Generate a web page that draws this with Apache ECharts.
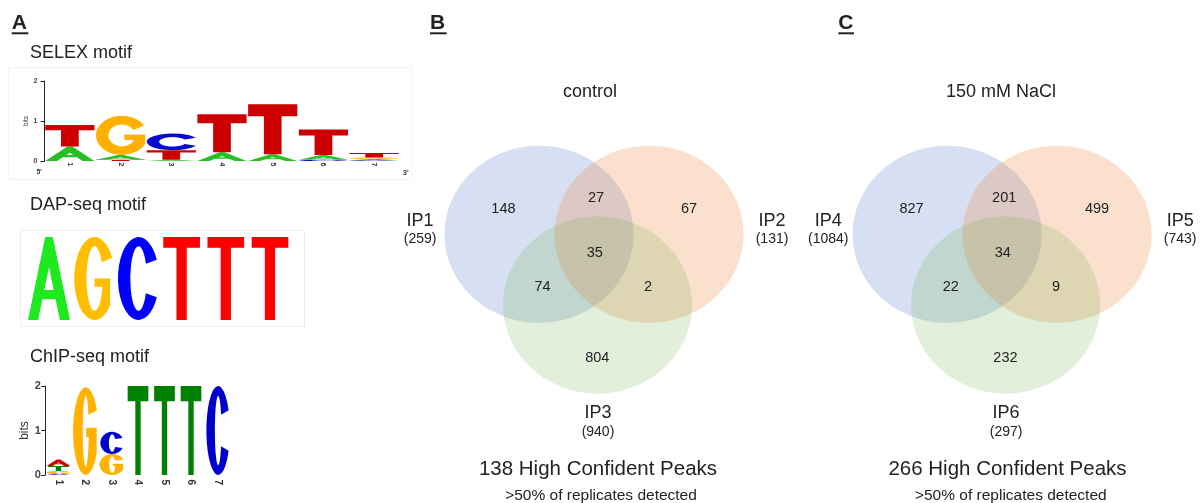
<!DOCTYPE html>
<html><head><meta charset="utf-8">
<script src="https://cdn.jsdelivr.net/npm/echarts@6.0.0/dist/echarts.min.js"></script>
<style>html,body{margin:0;padding:0;background:#fff}#c{width:1203px;height:503px}</style>
</head><body><div id="c"></div>
<script>
// ================= DATA =================
// Panel A – SELEX motif (bits per letter, positions 1..7)
const selexPositions = ['1','2','3','4','5','6','7'];
const selexA = [0.36, 0.12, 0.03, 0.22, 0.17, 0.12, 0.03];
const selexC = [0.00, 0.00, 0.42, 0.00, 0.00, 0.03, 0.02];
const selexG = [0.00, 0.98, 0.00, 0.00, 0.00, 0.00, 0.04];
const selexT = [0.54, 0.03, 0.24, 0.95, 1.25, 0.64, 0.11];
// Panel A – DAP-seq consensus
const dapPositions = ['1','2','3','4','5','6'];
const dapLetters = ['A','G','C','T','T','T'];
const dapHeights = [1, 1, 1, 1, 1, 1];
// Panel A – ChIP-seq motif (bits)
const chipPositions = ['1','2','3','4','5','6','7'];
const chipA = [0.15, 0.00, 0.00, 0.00, 0.00, 0.00, 0.00];
const chipC = [0.02, 0.00, 0.50, 0.00, 0.00, 0.00, 2.00];
const chipG = [0.07, 1.97, 0.47, 0.00, 0.00, 0.00, 0.00];
const chipT = [0.11, 0.00, 0.00, 2.00, 2.00, 2.00, 0.00];
const bitsTicks = [0, 1, 2];
// Panel B – control
const titleB = 'control';
const setNamesB = ['IP1', 'IP2', 'IP3'];
const setTotalsB = [259, 131, 940];
const regionCountsB = [148, 67, 804, 27, 74, 2, 35]; // 1,2,3,12,13,23,123
const highConfB = 138;
// Panel C – 150 mM NaCl
const titleC = '150 mM NaCl';
const setNamesC = ['IP4', 'IP5', 'IP6'];
const setTotalsC = [1084, 743, 297];
const regionCountsC = [827, 499, 232, 201, 22, 9, 34];
const highConfC = 266;
const subNote = '>50% of replicates detected';

// ================= LAYOUT / STYLE =================
const FONT = '"Liberation Sans", Arial, Helvetica, sans-serif';
const LETTERS = ['A','C','G','T'];
const VENN_CIRCLES = [[-0.582, 0], [0.582, 0], [0.038, -0.8]];
const VENN_FILLS = ['rgba(68,114,196,0.22)', 'rgba(237,125,49,0.24)', 'rgba(112,173,71,0.2)'];
const VENN_REGION_POS = [[-0.958,0.285],[1.005,0.285],[0.035,-1.395],[0.022,0.412],[-0.544,-0.6],[0.572,-0.6],[0.008,-0.216]];
const VENN_SET_POS = [[-1.84,0.153],[1.884,0.153],[0.042,-2.024]];
const SET_COUNT_DY = -0.214;

const f2 = v => (+v).toFixed(2);
function glyphT(p){ const b=f2(p.bar*100), s=p.stem*50; return `M0,0H100V${b}H${f2(50+s)}V100H${f2(50-s)}V${b}H0Z`; }
function glyphA(p){
  const tw=p.top, s=p.leg, c1=p.cb1, c2=p.cb2;
  const xl=y=>50-tw/2+s-(50-tw/2)*y/100, xr=y=>50+tw/2-s+(50-tw/2)*y/100;
  const yap=(2*s-tw)*100/(100-tw);
  return `M0,100L${f2(50-tw/2)},0L${f2(50+tw/2)},0L100,100L${f2(100-s)},100L${f2(xr(c2))},${c2}L${f2(xl(c2))},${c2}L${s},100Z` +
         `M${f2(xl(c1))},${c1}L${f2(xr(c1))},${c1}L50,${f2(yap)}Z`;
}
function glyphC(p){
  const t=p.theta*Math.PI/180, irx=50-p.sx, iry=50-p.sy;
  const ox=50+50*Math.cos(t), oy=50*Math.sin(t), ix=50+irx*Math.cos(t), iy=iry*Math.sin(t);
  return `M${f2(ox)},${f2(50-oy)}A50,50 0 1 0 ${f2(ox)},${f2(50+oy)}L${f2(ix)},${f2(50+iy)}A${irx},${iry} 0 1 1 ${f2(ix)},${f2(50-iy)}Z`;
}
function glyphG(p){
  const t=p.theta*Math.PI/180, f=p.phi*Math.PI/180, irx=50-p.sx, iry=50-p.sy;
  const ox=50+50*Math.cos(t), oy=50*Math.sin(t);
  const ex=50+50*Math.cos(f), ey=50+50*Math.sin(f);
  const yb=p.barBottom, ang=Math.asin(Math.min(1,(yb-50)/iry)), ix=50+irx*Math.cos(ang);
  const tx=50+irx*Math.cos(t), ty=50-iry*Math.sin(t);
  return `M${f2(ox)},${f2(50-oy)}A50,50 0 1 0 ${f2(ex)},${f2(ey)}L${f2(ex)},${p.barTop}L${p.barLeft},${p.barTop}L${p.barLeft},${yb}L${f2(ix)},${yb}A${irx},${iry} 0 1 1 ${f2(tx)},${f2(ty)}Z`;
}
function makeStyle(o){
  return {
    paths:{A:glyphA(o.A), C:glyphC(o.C), G:glyphG(o.G), T:glyphT(o.T)},
    colors:o.colors, widths:o.widths
  };
}
const STYLE_SELEX = makeStyle({
  T:{bar:0.24, stem:0.36}, A:{top:10, leg:24, cb1:58, cb2:74},
  C:{theta:28, sx:24, sy:22}, G:{theta:30, phi:25, barTop:48, barBottom:62, barLeft:55, sx:24, sy:22},
  colors:{A:'#24C024', C:'#0A0ACC', G:'#FFB000', T:'#CC0000'},
  widths:{A:0.97, C:0.97, G:0.97, T:0.97}
});
const STYLE_DAP = makeStyle({
  T:{bar:0.13, stem:0.28}, A:{top:18, leg:24, cb1:64, cb2:75},
  C:{theta:27, sx:30, sy:11}, G:{theta:30, phi:40, barTop:50, barBottom:60, barLeft:50, sx:30, sy:11},
  colors:{A:'#1EE81E', C:'#0000FF', G:'#FFBF00', T:'#FF0000'},
  widths:{A:0.95, C:0.88, G:0.86, T:0.83}
});
const STYLE_CHIP = makeStyle({
  T:{bar:0.17, stem:0.26}, A:{top:14, leg:26, cb1:60, cb2:74},
  C:{theta:27, sx:36, sy:11}, G:{theta:28, phi:30, barTop:46, barBottom:57, barLeft:52, sx:38, sy:10},
  colors:{A:'#CC0000', C:'#0000CC', G:'#FFB300', T:'#008000'},
  widths:{A:0.9, C:0.84, G:0.9, T:0.78}
});

// stack letters per position: smallest at bottom
function stackData(cols){ // cols: {A:[],C:[],G:[],T:[]}
  const out=[]; const n=cols.A.length;
  for(let i=0;i<n;i++){
    const items=LETTERS.map((L,li)=>({li, h:cols[L][i]})).filter(d=>d.h>0);
    items.sort((a,b)=>a.h-b.h);
    let base=0;
    items.forEach(d=>{ out.push([i, base, d.h, d.li]); base+=d.h; });
  }
  return out;
}
const selexData = stackData({A:selexA, C:selexC, G:selexG, T:selexT});
const chipData = stackData({A:chipA, C:chipC, G:chipG, T:chipT});
const dapData = dapLetters.map((L,i)=>[i, 0, dapHeights[i], LETTERS.indexOf(L)]);

function logoSeries(gi, data, style){
  return {
    type:'custom', xAxisIndex:gi, yAxisIndex:gi, silent:true, clip:false, data,
    encode:{x:0, y:1},
    renderItem(params, api){
      const pos=api.value(0), base=api.value(1), h=api.value(2), L=LETTERS[api.value(3)];
      const p0=api.coord([pos, base]), p1=api.coord([pos, base+h]);
      const band=api.size([1,0])[0];
      const w=band*style.widths[L], hh=p0[1]-p1[1];
      if(hh<0.4) return null;
      return {type:'path', shape:{pathData:style.paths[L], x:p0[0]-w/2, y:p1[1], width:w, height:hh, layout:'cover'},
              style:{fill:style.colors[L]}};
    }
  };
}
function vennCircleSeries(gi){
  return {
    type:'custom', xAxisIndex:gi, yAxisIndex:gi, silent:true, clip:false,
    data: VENN_CIRCLES.map((c,i)=>[c[0], c[1], i]),
    renderItem(params, api){
      const c=api.coord([api.value(0), api.value(1)]); const s=api.size([1,1]);
      return {type:'ellipse', shape:{cx:c[0], cy:c[1], rx:s[0], ry:s[1]}, style:{fill:VENN_FILLS[api.value(2)]}};
    }
  };
}
function vennTextSeries(gi, names, totals, counts){
  const items=[];
  counts.forEach((v,i)=>items.push([VENN_REGION_POS[i][0], VENN_REGION_POS[i][1], String(v), 14.5]));
  names.forEach((nm,i)=>{
    items.push([VENN_SET_POS[i][0], VENN_SET_POS[i][1], nm, 18]);
    items.push([VENN_SET_POS[i][0], VENN_SET_POS[i][1]+SET_COUNT_DY, '(' + totals[i] + ')', 14]);
  });
  return {
    type:'custom', xAxisIndex:gi, yAxisIndex:gi, silent:true, clip:false,
    data: items.map(it=>[it[0], it[1]]),
    renderItem(params, api){
      const it=items[params.dataIndex]; const c=api.coord([it[0], it[1]]);
      return {type:'text', x:c[0], y:c[1], style:{text:it[2], fontSize:it[3], fontFamily:FONT, fill:'#222',
        align:'center', verticalAlign:'middle', textAlign:'center', textVerticalAlign:'middle'}};
    }
  };
}

const logoY = (name, fs, nameFs, gap, margin) => ({
  min:bitsTicks[0], max:bitsTicks[bitsTicks.length-1], interval:1,
  name, nameLocation:'middle', nameGap:gap, nameRotate:90,
  nameTextStyle:{fontSize:nameFs, color:'#333', fontFamily:FONT},
  axisLine:{show:true, lineStyle:{color:'#222', width:1}},
  axisTick:{show:true, length:4, lineStyle:{color:'#222'}},
  axisLabel:{fontSize:fs, fontWeight:'bold', color:'#444', margin, fontFamily:FONT},
  splitLine:{show:false}
});
const logoX = (gi, cats, fs, margin) => ({
  type:'category', gridIndex:gi, data:cats, boundaryGap:true,
  axisLine:{show:false}, axisTick:{show:false},
  axisLabel:{rotate:-90, fontSize:fs, fontWeight:'bold', color:'#333', margin, fontFamily:FONT, interval:0}
});
const hiddenX = gi => ({type:'value', gridIndex:gi, min:-2.1, max:2.1, show:false});
const hiddenY = gi => ({type:'value', gridIndex:gi, min:-3, max:2, show:false});

function txt(x, y, text, size, opts){
  opts=opts||{};
  return {type:'text', x, y, silent:true, style:{text, fontSize:size, fontFamily:FONT, fontWeight:opts.bold?'bold':'normal',
    fill:opts.color||'#222', align:opts.align||'left', verticalAlign:'middle', textAlign:opts.align||'left', textVerticalAlign:'middle'}};
}

const chart = echarts.init(document.getElementById('c'), null, {renderer:'canvas'});
chart.setOption({
  animation:false,
  backgroundColor:'#fff',
  textStyle:{fontFamily:FONT},
  grid:[
    {left:44.5, top:81, width:355, height:80, outerBoundsMode:'none'},
    {left:26.9, top:237, width:265.2, height:83, outerBoundsMode:'none'},
    {left:45.25, top:386, width:185.5, height:89, outerBoundsMode:'none'},
    {left:395.55, top:57.2, width:396.9, height:442.5, outerBoundsMode:'none'},
    {left:803.65, top:57.2, width:396.9, height:442.5, outerBoundsMode:'none'}
  ],
  xAxis:[
    logoX(0, selexPositions, 7, 1.5),
    {type:'category', gridIndex:1, data:dapPositions, show:false},
    logoX(2, chipPositions, 10, 4.5),
    hiddenX(3), hiddenX(4)
  ],
  yAxis:[
    Object.assign({type:'value', gridIndex:0}, logoY('bits', 7, 6.5, 9, 7)),
    {type:'value', gridIndex:1, min:0, max:1, show:false},
    Object.assign({type:'value', gridIndex:2}, logoY('bits', 11, 12, 10, 4.5)),
    hiddenY(3), hiddenY(4)
  ],
  series:[
    logoSeries(0, selexData, STYLE_SELEX),
    logoSeries(1, dapData, STYLE_DAP),
    logoSeries(2, chipData, STYLE_CHIP),
    vennCircleSeries(3), vennTextSeries(3, setNamesB, setTotalsB, regionCountsB),
    vennCircleSeries(4), vennTextSeries(4, setNamesC, setTotalsC, regionCountsC)
  ],
  graphic:[
    {type:'rect', silent:true, shape:{x:8.5, y:67.5, width:403, height:112}, style:{fill:'none', stroke:'#f3f3f3', lineWidth:1}},
    {type:'rect', silent:true, shape:{x:20.5, y:230.5, width:284, height:96}, style:{fill:'none', stroke:'#ececec', lineWidth:1}},
    txt(11.7, 23, 'A', 21, {bold:true}),
    {type:'rect', silent:true, shape:{x:11.7, y:32.3, width:16.6, height:2}, style:{fill:'#222'}},
    txt(430, 23, 'B', 21, {bold:true}),
    {type:'rect', silent:true, shape:{x:430, y:32.3, width:16.7, height:2}, style:{fill:'#222'}},
    txt(838.3, 23, 'C', 21, {bold:true}),
    {type:'rect', silent:true, shape:{x:838.3, y:32.3, width:15.7, height:2}, style:{fill:'#222'}},
    txt(30, 53.5, 'SELEX motif', 18),
    txt(30, 205.5, 'DAP-seq motif', 18),
    txt(30, 357, 'ChIP-seq motif', 18),
    txt(42, 171.7, "5'", 7, {bold:true, color:'#333', align:'right'}),
    txt(403, 173, "3'", 7, {bold:true, color:'#333'}),
    txt(590, 92, titleB, 18, {align:'center'}),
    txt(1001, 92, titleC, 18, {align:'center'}),
    txt(598, 469.5, highConfB + ' High Confident Peaks', 20.5, {align:'center'}),
    txt(601, 495.5, subNote, 15.5, {align:'center'}),
    txt(1007.5, 469.5, highConfC + ' High Confident Peaks', 20.5, {align:'center'}),
    txt(1010.8, 495.5, subNote, 15.5, {align:'center'})
  ]
});
</script></body></html>
